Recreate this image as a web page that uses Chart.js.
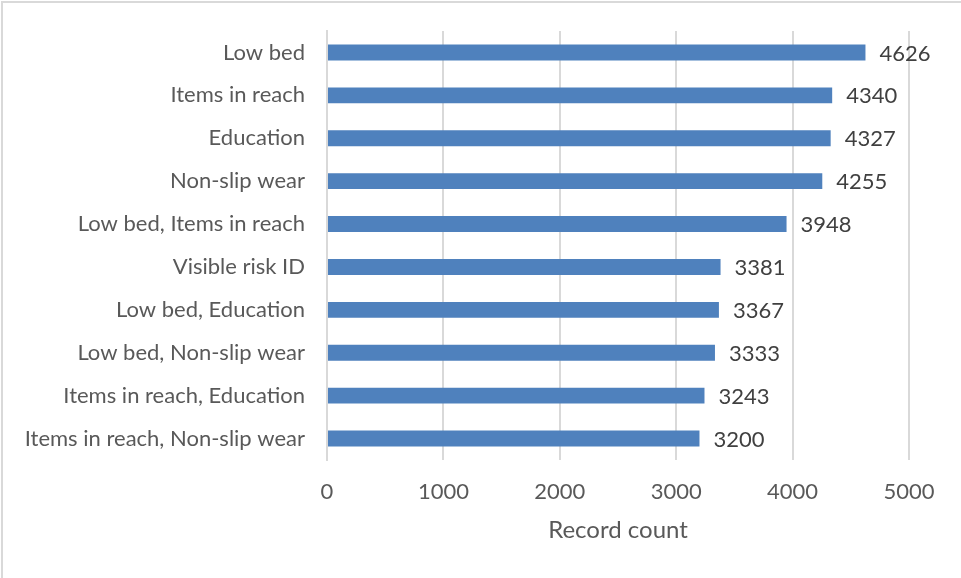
<!DOCTYPE html>
<html>
<head>
<meta charset="utf-8">
<script src="https://cdn.jsdelivr.net/npm/chart.js@4"></script>
<style>
  html, body { margin: 0; padding: 0; background: #fff; }
  #wrap { position: relative; width: 961px; height: 578px; }
  #frame { position: absolute; left: 1px; top: 1px; width: 970px; height: 590px;
           border-left: 2px solid #d9d9d9; border-top: 2px solid #d9d9d9; }
  canvas { position: absolute; left: 0; top: 0; }
</style>
</head>
<body>
<div id="wrap">
  <div id="frame"></div>
  <canvas id="chart" width="961" height="578"></canvas>
</div>
<script>
const categories = [
    "Low bed",
    "Items in reach",
    "Education",
    "Non-slip wear",
    "Low bed, Items in reach",
    "Visible risk ID",
    "Low bed, Education",
    "Low bed, Non-slip wear",
    "Items in reach, Education",
    "Items in reach, Non-slip wear",
];
const recordCounts = [4626, 4340, 4327, 4255, 3948, 3381, 3367, 3333, 3243, 3200];
const xTicks = [0, 1000, 2000, 3000, 4000, 5000];
const axisTitle = "Record count";

const FONT = "Lato, 'Open Sans', sans-serif";

// value labels at the end of each bar
const barValues = {
    id: "barValues",
    afterDatasetsDraw(chart) {
        const ctx = chart.ctx;
        const meta = chart.getDatasetMeta(0);
        ctx.save();
        ctx.fillStyle = "#404040";
        ctx.font = "22px " + FONT;
        ctx.textAlign = "left";
        ctx.textBaseline = "middle";
        meta.data.forEach((bar, i) => {
            ctx.fillText(String(recordCounts[i]), bar.x + 14, bar.y + 1);
        });
        ctx.restore();
    }
};

const ctx = document.getElementById("chart").getContext("2d");
new Chart(ctx, {
    type: "bar",
    data: {
        labels: categories,
        datasets: [{
            data: recordCounts,
            backgroundColor: "#4f81bd",
            borderWidth: 0,
            categoryPercentage: 1,
            barPercentage: 0.37,
        }]
    },
    options: {
        indexAxis: "y",
        responsive: false,
        animation: false,
        layout: { padding: { left: 10, right: 52, top: 31, bottom: 0 } },
        plugins: {
            legend: { display: false },
            tooltip: { enabled: false },
        },
        scales: {
            x: {
                min: 0,
                max: 5000,
                afterBuildTicks: (axis) => { axis.ticks = xTicks.map(v => ({ value: v })); },
                afterFit: (axis) => { axis.height = 118; axis.paddingLeft = 0; axis.paddingRight = 0; },
                grid: { color: "#d9d9d9", lineWidth: 2, drawTicks: false },
                border: { display: false },
                ticks: {
                    color: "#595959",
                    font: { family: FONT, size: 22 },
                    padding: 19,
                    maxRotation: 0,
                    callback: (v) => String(v),
                },
                title: {
                    display: true,
                    text: axisTitle,
                    color: "#595959",
                    font: { family: FONT, size: 24 },
                    padding: { top: 0, bottom: 33 },
                }
            },
            y: {
                afterFit: (axis) => { axis.width = 317; axis.paddingTop = 0; axis.paddingBottom = 0; },
                grid: { display: false, drawTicks: false },
                border: { display: true, color: "#d9d9d9", width: 2 },
                ticks: { color: "#595959", font: { family: FONT, size: 22 }, padding: 22, autoSkip: false },
            }
        }
    },
    plugins: [barValues],
});
</script>
</body>
</html>
